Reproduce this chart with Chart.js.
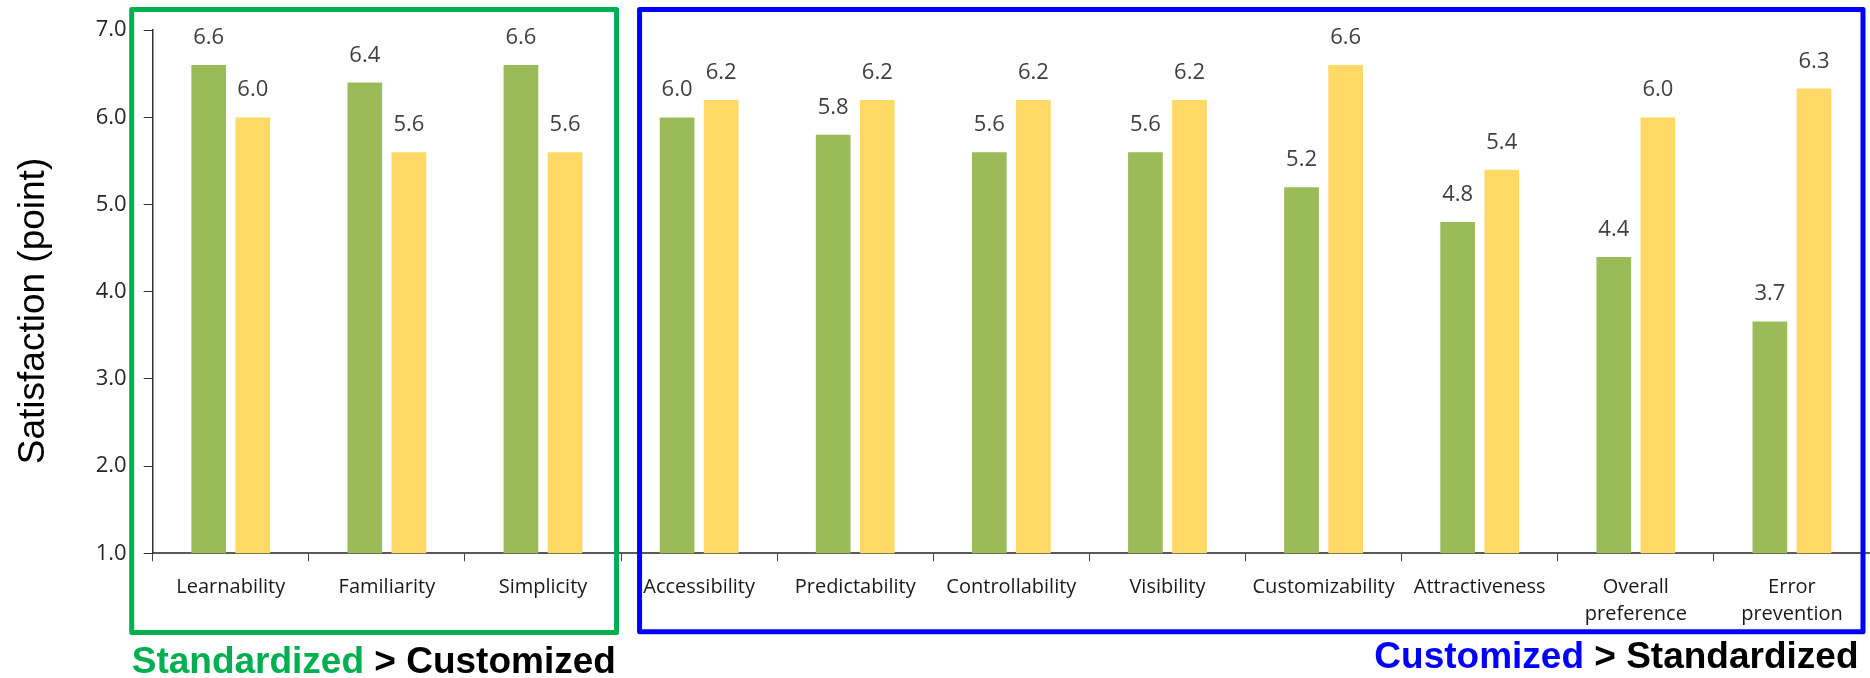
<!DOCTYPE html>
<html><head><meta charset="utf-8">
<script src="https://cdn.jsdelivr.net/npm/chart.js@4.4.1/dist/chart.umd.min.js"></script>
<style>html,body{margin:0;padding:0;background:#fff;overflow:hidden}canvas{display:block}</style>
</head><body>
<canvas id="c" width="1870" height="678"></canvas>
<script>
const categories = ['Learnability','Familiarity','Simplicity','Accessibility','Predictability','Controllability','Visibility','Customizability','Attractiveness',['Overall','preference'],['Error','prevention']];
const standardized = [6.6, 6.4, 6.6, 6.0, 5.8, 5.6, 5.6, 5.2, 4.8, 4.4, 3.66];
const customized   = [6.0, 5.6, 5.6, 6.2, 6.2, 6.2, 6.2, 6.6, 5.4, 6.0, 6.33];
const yMin = 1, yMax = 7, yStep = 1;
const yTitle = 'Satisfaction (point)';
const leftGroupText = ['Standardized', ' > Customized'];
const rightGroupText = ['Customized', ' > Standardized'];
const splitIndex = 3;

const overlay = {
  id: 'overlay',
  afterDatasetsDraw(chart) {
    const ctx = chart.ctx;
    ctx.save();
    ctx.font = '22px "Open Sans"';
    ctx.fillStyle = '#404040';
    ctx.textAlign = 'center';
    ctx.textBaseline = 'alphabetic';
    chart.data.datasets.forEach((ds, di) => {
      chart.getDatasetMeta(di).data.forEach((bar, i) => {
        ctx.fillText(ds.data[i].toFixed(1), bar.x, bar.y - 21);
      });
    });
    ctx.restore();
  },
  afterDraw(chart) {
    const ctx = chart.ctx;
    const xs = chart.scales.x;
    const n = categories.length;
    const cw = (xs.right - xs.left) / n;
    const split = xs.left + splitIndex * cw;
    ctx.save();
    ctx.lineWidth = 5;
    ctx.lineJoin = 'round';
    ctx.strokeStyle = '#00B050';
    ctx.strokeRect(xs.left - 21, 9.5, split - 4.5 - (xs.left - 21), 632.5 - 9.5);
    ctx.strokeStyle = '#0000FF';
    ctx.strokeRect(split + 18.5, 9.5, chart.width - 7 - (split + 18.5), 631.7 - 9.5);

    ctx.font = 'bold 37px "Liberation Sans", Arial, sans-serif';
    ctx.textBaseline = 'alphabetic';
    ctx.textAlign = 'left';
    let x0 = xs.left - 21;
    ctx.fillStyle = '#00B050';
    ctx.fillText(leftGroupText[0], x0, 673.4);
    x0 += ctx.measureText(leftGroupText[0]).width;
    ctx.fillStyle = '#000';
    ctx.fillText(leftGroupText[1], x0, 673.4);

    const w1 = ctx.measureText(rightGroupText[1]).width;
    const xr = chart.width - 11.5;
    ctx.fillStyle = '#000';
    ctx.fillText(rightGroupText[1], xr - w1, 668.4);
    ctx.fillStyle = '#0000FF';
    ctx.textAlign = 'right';
    ctx.fillText(rightGroupText[0], xr - w1, 668.4);

    ctx.translate(44, 311);
    ctx.rotate(-Math.PI / 2);
    ctx.textAlign = 'center';
    ctx.font = '37px "Liberation Sans", Arial, sans-serif';
    ctx.fillStyle = '#000';
    ctx.fillText(yTitle, 0, 0);
    ctx.restore();
  }
};

new Chart(document.getElementById('c'), {
  type: 'bar',
  data: {
    labels: categories,
    datasets: [
      { label: 'Standardized', data: standardized, backgroundColor: '#9BBB59', borderWidth: 0 },
      { label: 'Customized', data: customized, backgroundColor: '#FFD966', borderWidth: 0 }
    ]
  },
  options: {
    responsive: false,
    animation: false,
    devicePixelRatio: 1,
    layout: { padding: { top: 29.3, left: 0, right: 0, bottom: 0 } },
    datasets: { bar: { categoryPercentage: 0.565, barPercentage: 0.787 } },
    plugins: { legend: { display: false }, tooltip: { enabled: false }, title: { display: false } },
    scales: {
      x: {
        afterFit(s) { s.height = 124.7; },
        grid: { drawOnChartArea: false, drawTicks: true, tickLength: 8, tickColor: '#444', offset: true },
        border: { display: true, color: '#595959', width: 2 },
        ticks: { color: '#1a1a1a', font: { family: 'Open Sans', size: 20, lineHeight: 1.37 }, padding: 12, maxRotation: 0, autoSkip: false }
      },
      y: {
        min: yMin, max: yMax,
        afterFit(s) { s.width = 152.7; },
        grid: { drawOnChartArea: false, drawTicks: true, tickLength: 9, tickColor: '#333' },
        border: { display: true, color: '#333', width: 1.5 },
        ticks: { stepSize: yStep, color: '#262626', font: { family: 'Open Sans', size: 22 }, padding: 17, callback: v => v.toFixed(1) }
      }
    }
  },
  plugins: [overlay]
});
</script>
</body></html>
